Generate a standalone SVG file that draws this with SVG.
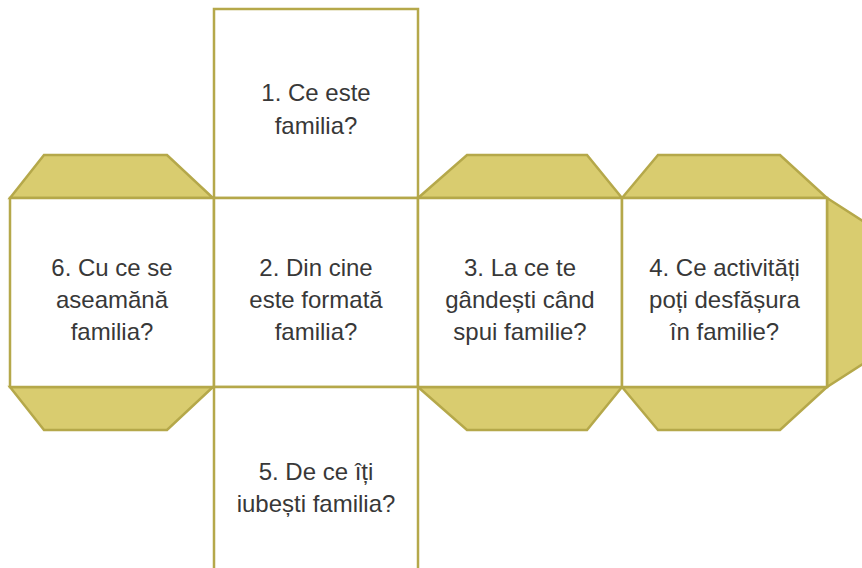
<svg xmlns="http://www.w3.org/2000/svg" width="862" height="568" viewBox="0 0 862 568">
<style>
.face{fill:#ffffff;stroke:#b5a84a;stroke-width:2.5}
.flap{fill:#d9cc6f;stroke:#b5a84a;stroke-width:2.5;stroke-linejoin:miter}
.t{font-family:"Liberation Sans",Arial,sans-serif;font-size:24px;fill:#383838;text-anchor:middle}
</style>
<rect width="862" height="568" fill="#ffffff"/>
<g id="flaps">
<polygon class="flap" points="10,198 44,155 167,155 213,198"/>
<polygon class="flap" points="10,387 44,430 167,430 213,387"/>
<polygon class="flap" points="418,198 467,155 587,155 622,198"/>
<polygon class="flap" points="418,387 467,430 587,430 622,387"/>
<polygon class="flap" points="622,198 658,155 780,155 827,198"/>
<polygon class="flap" points="622,387 658,430 780,430 827,387"/>
<polygon class="flap" points="827,198 875,229 875,356 827,387"/>
</g>
<g id="face1">
<rect class="face" x="214" y="9" width="204" height="189"/>
<text class="t" x="316" y="101">1. Ce este</text>
<text class="t" x="316" y="134">familia?</text>
</g>
<g id="face6">
<rect class="face" x="10" y="198" width="204" height="189"/>
<text class="t" x="112" y="276">6. Cu ce se</text>
<text class="t" x="112" y="308">aseamănă</text>
<text class="t" x="112" y="340">familia?</text>
</g>
<g id="face2">
<rect class="face" x="214" y="198" width="204" height="189"/>
<text class="t" x="316" y="276">2. Din cine</text>
<text class="t" x="316" y="308">este formată</text>
<text class="t" x="316" y="340">familia?</text>
</g>
<g id="face3">
<rect class="face" x="418" y="198" width="204" height="189"/>
<text class="t" x="520" y="276">3. La ce te</text>
<text class="t" x="520" y="308">gândești când</text>
<text class="t" x="520" y="340">spui familie?</text>
</g>
<g id="face4">
<rect class="face" x="622" y="198" width="205" height="189"/>
<text class="t" x="724.5" y="276">4. Ce activități</text>
<text class="t" x="724.5" y="308">poți desfășura</text>
<text class="t" x="724.5" y="340">în familie?</text>
</g>
<g id="face5">
<rect class="face" x="214" y="387" width="204" height="200"/>
<text class="t" x="316" y="480">5. De ce îți</text>
<text class="t" x="316" y="512">iubești familia?</text>
</g>
<g id="connectors"></g>
</svg>
